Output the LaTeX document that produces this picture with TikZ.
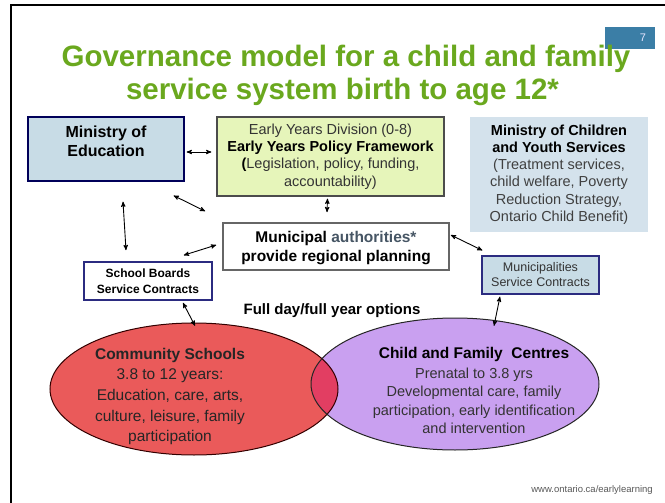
\documentclass[tikz,border=0pt]{standalone}
\usepackage{fontspec}
\setmainfont{Liberation Sans}
\usetikzlibrary{arrows, shapes.geometric}

\definecolor{titlegreen}{RGB}{106,168,30}
\definecolor{pageblue}{RGB}{59,126,166}
\definecolor{edublue}{RGB}{200,220,230}
\definecolor{mcysblue}{RGB}{212,226,236}
\definecolor{policygreen}{RGB}{230,245,186}
\definecolor{contractblue}{RGB}{43,43,128}
\definecolor{schoolred}{RGB}{234,90,90}
\definecolor{centrepurple}{RGB}{201,160,240}
\definecolor{mixred}{RGB}{226,62,98}
\definecolor{authgray}{RGB}{70,85,100}

\newcommand{\fs}[2]{\fontsize{#1}{#2}\selectfont}

\begin{document}
\begin{tikzpicture}[x=1pt, y=-1pt,
  box/.style={inner sep=0pt, align=center},
  link/.style={<->, >=stealth', line width=0.9pt},
  blob/.style={ellipse, inner sep=0pt, minimum width=288pt, minimum height=132pt}]
\useasboundingbox (0,0) rectangle (665,503);
\fill[white] (0,0) rectangle (665,503);
\draw[line width=1.8pt] (11,503) -- (11,5) -- (665,5);

% slide number and heading
\node[fill=pageblue, minimum width=50pt, minimum height=22pt, text width=32pt, align=right, text=white!90!blue, font=\fs{11}{13}] (pg) at (630,38) {7};
\node[anchor=base, text=titlegreen, font=\bfseries\fs{29.5}{33}] (head1) at (346,67) {Governance model for a child and family};
\node[anchor=base, text=titlegreen, font=\bfseries\fs{29.5}{33}] (head2) at (342.5,100) {service system birth to age 12*};

% ministries and policy
\node[box, draw=black!65!blue, line width=1.2pt, fill=edublue, minimum width=156pt, minimum height=64pt, text depth=16pt, font=\bfseries\fs{16}{19.5}] (moe) at (106,149) {Ministry of\\Education};
\node[box, draw=black!70, line width=1.2pt, fill=policygreen, minimum width=227pt, minimum height=79pt, font=\fs{14.5}{17.3}, text=black!80] (eyd) at (330.5,156.5) {Early Years Division (0-8)\\{\color{black}\bfseries Early Years Policy Framework}\\{\color{black}\bfseries (}Legislation, policy, funding,\\accountability)};
\node[box, fill=mcysblue, minimum width=178pt, minimum height=115pt, font=\fs{14.5}{17.2}, text=black!75] (mcy) at (559,174.5) {{\color{black}\bfseries Ministry of Children}\\{\color{black}\bfseries and Youth Services}\\(Treatment services,\\child welfare, Poverty\\Reduction Strategy,\\Ontario Child Benefit)};

% planning and contracts
\node[box, draw=black!60, line width=1.6pt, fill=white, minimum width=226pt, minimum height=47pt, text depth=0pt, font=\bfseries\fs{15.5}{18.7}] (mun) at (336,246.5) {Municipal {\color{authgray}authorities*}\\provide regional planning};
\node[box, draw=contractblue, line width=1.6pt, fill=white, minimum width=128pt, minimum height=38pt, font=\bfseries\fs{12}{16}] (sbc) at (148,281) {School Boards\\Service Contracts};
\node[box, draw=contractblue, line width=1.2pt, fill=edublue, minimum width=117pt, minimum height=38pt, font=\fs{12.5}{15}, text=black!80] (msc) at (540.5,275) {Municipalities\\Service Contracts};
\node[anchor=base, font=\bfseries\fs{15}{18}] (opts) at (332,314) {Full day/full year options};

% the two service ellipses
\node[blob, fill=schoolred] (cs) at (194,389) {};
\node[blob, fill=centrepurple] (cfc) at (455,384) {};
\begin{scope}
  \clip (cs.center) ellipse [x radius=144pt, y radius=66pt];
  \fill[mixred] (cfc.center) ellipse [x radius=144pt, y radius=66pt];
\end{scope}
\draw[line width=1pt, black!80!red] (cs.center) ellipse [x radius=144pt, y radius=66pt];
\draw[line width=1pt, black!85] (cfc.center) ellipse [x radius=144pt, y radius=66pt];

\node[box, font=\fs{15.5}{20.6}, text=black!85] (cstext) at (170,396.5) {{\bfseries Community Schools}\\3.8 to 12 years:\\Education, care, arts,\\culture, leisure, family\\participation};
\node[box, font=\fs{14.5}{18.5}, text=black!80] (cfctext) at (474,390.4) {{\color{black}\bfseries\fs{15.5}{18.5}Child and Family~ Centres}\\[1.5pt]Prenatal to 3.8 yrs\\Developmental care, family\\participation, early identification\\and intervention};

\node[anchor=base east, inner sep=0pt, font=\fs{9.5}{11}, text=black!65] (web) at (653,492) {www.ontario.ca/earlylearning};

% links
\draw[link] ([shift={(2,3)}]moe.east) -- ([shift={(-5,-4.5)}]eyd.west);
\draw[link] ([shift={(-11,14)}]moe.south east) -- ([shift={(-17,-11)}]mun.north west);
\draw[link] ([shift={(17,20)}]moe.south) -- ([shift={(-22,-11)}]sbc.north);
\draw[link] ([shift={(-3,2)}]eyd.south) -- ([shift={(-9,-10)}]mun.north);
\draw[link] ([shift={(-29,-6)}]sbc.north east) -- ([shift={(-6,-1.5)}]mun.west);
\draw[link] ([shift={(1,-11.5)}]mun.east) -- ([shift={(1,-5)}]msc.north west);
\draw[link] ([shift={(35,2)}]sbc.south) -- ([shift={(1,3)}]cs.north);
\draw[link] ([shift={(-40.5,2)}]msc.south) -- ([shift={(39,8)}]cfc.north);
\end{tikzpicture}
\end{document}
